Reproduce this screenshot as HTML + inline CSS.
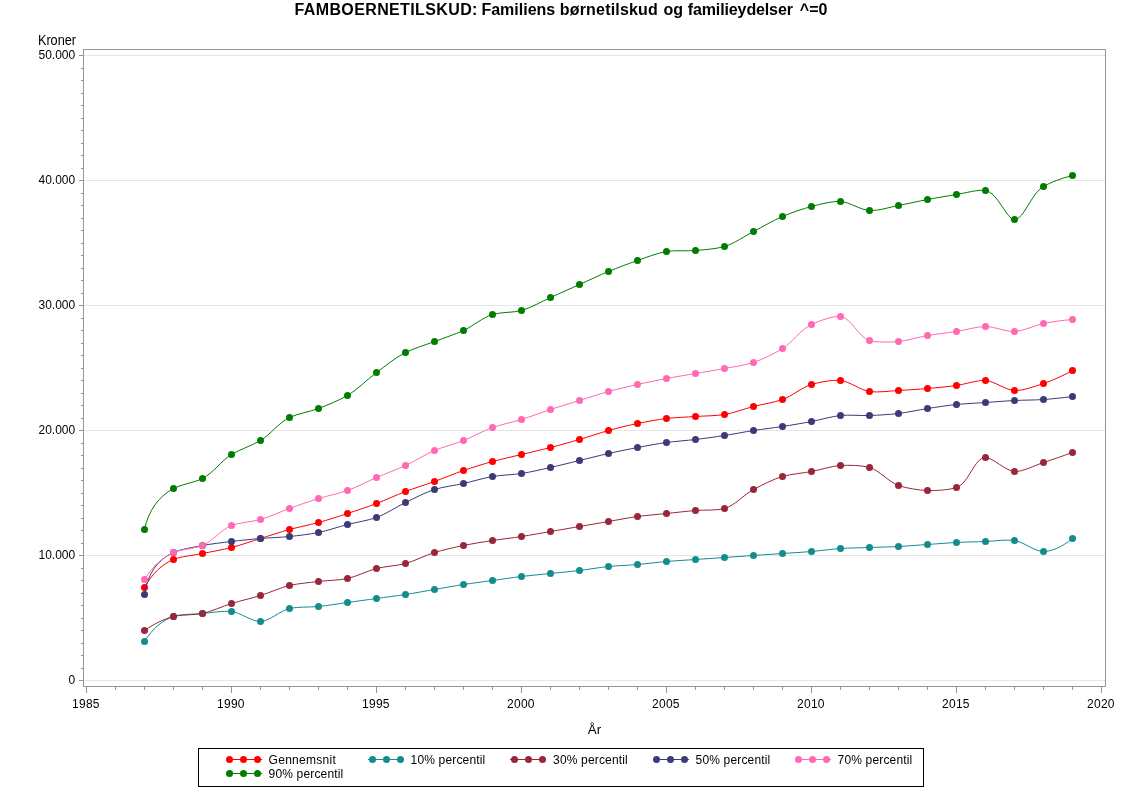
<!DOCTYPE html>
<html lang="da"><head><meta charset="utf-8">
<title>FAMBOERNETILSKUD: Familiens børnetilskud og familieydelser ^=0</title>
<style>
html,body{margin:0;padding:0;background:#fff;}
body{width:1122px;height:793px;overflow:hidden;}
svg{display:block;}
text{font-family:"Liberation Sans", sans-serif;fill:#000;}
.t{font-size:12px;}
.l{font-size:13.33px;}
.title{font-size:16px;font-weight:bold;}
.ax{stroke:#8F979C;stroke-width:1;fill:none;shape-rendering:crispEdges;}
.gr{stroke:#E6E6E6;stroke-width:1;fill:none;shape-rendering:crispEdges;}
.ln{fill:none;stroke-width:1;}
</style></head><body>
<svg width="1122" height="793" viewBox="0 0 1122 793">
<rect x="0" y="0" width="1122" height="793" fill="#fff"/>
<text class="title" y="14.7"><tspan x="294.5" textLength="182.9" lengthAdjust="spacing">FAMBOERNETILSKUD:</tspan> <tspan x="481.4">Familiens</tspan> <tspan x="559.8" textLength="98" lengthAdjust="spacing">børnetilskud</tspan> <tspan x="663.5">og</tspan> <tspan x="687.8" textLength="105.1" lengthAdjust="spacing">familieydelser</tspan> <tspan x="799.8">^=0</tspan></text>
<g class="gr">
<line x1="84.0" y1="55.5" x2="1105.0" y2="55.5"/>
<line x1="84.0" y1="180.5" x2="1105.0" y2="180.5"/>
<line x1="84.0" y1="305.5" x2="1105.0" y2="305.5"/>
<line x1="84.0" y1="430.5" x2="1105.0" y2="430.5"/>
<line x1="84.0" y1="555.5" x2="1105.0" y2="555.5"/>
<line x1="84.0" y1="680.5" x2="1105.0" y2="680.5"/>
</g>
<g class="ax">
<rect x="83.5" y="49.5" width="1022.0" height="637.0"/>
<path d="M79 680.5H83M81 668.5H83M81 655.5H83M81 643.5H83M81 630.5H83M81 618.5H83M81 605.5H83M81 593.5H83M81 580.5H83M81 568.5H83M79 555.5H83M81 543.5H83M81 530.5H83M81 518.5H83M81 505.5H83M81 493.5H83M81 480.5H83M81 468.5H83M81 455.5H83M81 443.5H83M79 430.5H83M81 418.5H83M81 405.5H83M81 393.5H83M81 380.5H83M81 368.5H83M81 355.5H83M81 343.5H83M81 330.5H83M81 318.5H83M79 305.5H83M81 293.5H83M81 280.5H83M81 268.5H83M81 255.5H83M81 243.5H83M81 230.5H83M81 218.5H83M81 205.5H83M81 193.5H83M79 180.5H83M81 168.5H83M81 155.5H83M81 143.5H83M81 130.5H83M81 118.5H83M81 105.5H83M81 93.5H83M81 80.5H83M81 68.5H83M79 55.5H83"/>
<path d="M86.5 687V693M115.5 687V690M144.5 687V690M173.5 687V690M202.5 687V690M231.5 687V693M260.5 687V690M289.5 687V690M318.5 687V690M347.5 687V690M376.5 687V693M405.5 687V690M434.5 687V690M463.5 687V690M492.5 687V690M521.5 687V693M550.5 687V690M579.5 687V690M608.5 687V690M637.5 687V690M666.5 687V693M695.5 687V690M724.5 687V690M753.5 687V690M782.5 687V690M811.5 687V693M840.5 687V690M869.5 687V690M898.5 687V690M927.5 687V690M956.5 687V693M985.5 687V690M1014.5 687V690M1043.5 687V690M1072.5 687V690M1101.5 687V693"/>
</g>
<g class="t" text-anchor="end">
<text x="75.2" y="59.1">50.000</text>
<text x="75.2" y="184.1">40.000</text>
<text x="75.2" y="309.1">30.000</text>
<text x="75.2" y="434.1">20.000</text>
<text x="75.2" y="559.1">10.000</text>
<text x="75.2" y="684.1">0</text>
</g>
<g class="t" text-anchor="middle" style="letter-spacing:0.3px">
<text x="85.9" y="708.1">1985</text>
<text x="230.9" y="708.1">1990</text>
<text x="375.9" y="708.1">1995</text>
<text x="520.9" y="708.1">2000</text>
<text x="665.9" y="708.1">2005</text>
<text x="810.9" y="708.1">2010</text>
<text x="955.9" y="708.1">2015</text>
<text x="1100.9" y="708.1">2020</text>
</g>
<text class="l" style="font-size:14px" x="37.9" y="44.9" textLength="38.2" lengthAdjust="spacingAndGlyphs">Kroner</text>
<text class="l" x="594.5" y="733.7" text-anchor="middle">År</text>
<g>
<path class="ln" stroke="#FF0000" d="M144.50 587.50C151.99 573.83 161.66 564.50 173.50 559.50C180.96 556.35 193.80 555.30 202.50 553.50C211.20 551.70 222.96 549.69 231.50 547.50C240.37 545.22 251.80 541.20 260.50 538.50C269.20 535.80 280.68 531.92 289.50 529.50C298.09 527.14 309.91 524.86 318.50 522.50C327.32 520.08 338.87 516.33 347.50 513.50C356.27 510.63 367.94 506.74 376.50 503.50C385.35 500.15 396.65 494.85 405.50 491.50C414.06 488.26 425.87 484.62 434.50 481.50C443.27 478.33 454.66 473.54 463.50 470.50C472.07 467.56 483.68 463.92 492.50 461.50C501.09 459.14 512.80 456.60 521.50 454.50C530.20 452.40 541.85 449.73 550.50 447.50C559.26 445.24 570.86 442.03 579.50 439.50C588.26 436.93 599.68 432.92 608.50 430.50C617.09 428.14 628.71 425.31 637.50 423.50C646.11 421.72 657.72 419.55 666.50 418.50C675.12 417.47 686.80 417.10 695.50 416.50C704.20 415.90 716.01 415.92 724.50 414.50C733.44 413.01 744.74 408.76 753.50 406.50C762.15 404.27 774.31 402.45 782.50 399.50C791.87 396.12 801.96 387.33 811.50 384.50C819.60 382.10 832.15 379.68 840.50 380.50C849.61 381.40 860.32 390.11 869.50 391.50C877.81 392.76 889.81 390.95 898.50 390.50C907.21 390.05 918.82 389.25 927.50 388.50C936.22 387.75 947.86 386.69 956.50 385.50C965.26 384.30 977.05 379.91 985.50 380.50C994.49 381.13 1005.61 390.15 1014.50 390.50C1023.03 390.84 1035.18 386.29 1043.50 383.50C1052.65 380.43 1062.32 376.10 1072.50 370.50"/>
<g fill="#FF0000">
<circle cx="144.5" cy="587.50" r="3.5"/><circle cx="173.5" cy="559.50" r="3.5"/><circle cx="202.5" cy="553.50" r="3.5"/><circle cx="231.5" cy="547.50" r="3.5"/><circle cx="260.5" cy="538.50" r="3.5"/><circle cx="289.5" cy="529.50" r="3.5"/><circle cx="318.5" cy="522.50" r="3.5"/><circle cx="347.5" cy="513.50" r="3.5"/><circle cx="376.5" cy="503.50" r="3.5"/><circle cx="405.5" cy="491.50" r="3.5"/><circle cx="434.5" cy="481.50" r="3.5"/><circle cx="463.5" cy="470.50" r="3.5"/><circle cx="492.5" cy="461.50" r="3.5"/><circle cx="521.5" cy="454.50" r="3.5"/><circle cx="550.5" cy="447.50" r="3.5"/><circle cx="579.5" cy="439.50" r="3.5"/><circle cx="608.5" cy="430.50" r="3.5"/><circle cx="637.5" cy="423.50" r="3.5"/><circle cx="666.5" cy="418.50" r="3.5"/><circle cx="695.5" cy="416.50" r="3.5"/><circle cx="724.5" cy="414.50" r="3.5"/><circle cx="753.5" cy="406.50" r="3.5"/><circle cx="782.5" cy="399.50" r="3.5"/><circle cx="811.5" cy="384.50" r="3.5"/><circle cx="840.5" cy="380.50" r="3.5"/><circle cx="869.5" cy="391.50" r="3.5"/><circle cx="898.5" cy="390.50" r="3.5"/><circle cx="927.5" cy="388.50" r="3.5"/><circle cx="956.5" cy="385.50" r="3.5"/><circle cx="985.5" cy="380.50" r="3.5"/><circle cx="1014.5" cy="390.50" r="3.5"/><circle cx="1043.5" cy="383.50" r="3.5"/><circle cx="1072.5" cy="370.50" r="3.5"/>
</g></g>
<g>
<path class="ln" stroke="#148C8C" d="M144.50 641.50C152.49 628.64 162.16 620.31 173.50 616.50C181.03 613.97 193.78 614.25 202.50 613.50C211.18 612.75 223.12 610.48 231.50 611.50C240.58 612.60 252.02 621.76 260.50 621.50C269.44 621.23 280.14 610.69 289.50 608.50C297.69 606.59 309.85 607.39 318.50 606.50C327.25 605.60 338.80 603.70 347.50 602.50C356.20 601.30 367.80 599.70 376.50 598.50C385.20 597.30 396.83 595.84 405.50 594.50C414.23 593.15 425.80 591.00 434.50 589.50C443.20 588.00 454.77 585.85 463.50 584.50C472.17 583.16 483.80 581.70 492.50 580.50C501.20 579.30 512.77 577.55 521.50 576.50C530.17 575.45 541.80 574.40 550.50 573.50C559.20 572.60 570.83 571.55 579.50 570.50C588.23 569.45 599.75 567.40 608.50 566.50C617.15 565.61 628.82 565.25 637.50 564.50C646.22 563.75 657.78 562.25 666.50 561.50C675.18 560.75 686.80 560.10 695.50 559.50C704.20 558.90 715.80 558.10 724.50 557.50C733.20 556.90 744.80 556.10 753.50 555.50C762.20 554.90 773.80 554.10 782.50 553.50C791.20 552.90 802.82 552.25 811.50 551.50C820.22 550.75 831.77 549.10 840.50 548.50C849.17 547.90 860.80 547.80 869.50 547.50C878.20 547.20 889.81 546.95 898.50 546.50C907.21 546.05 918.80 545.10 927.50 544.50C936.20 543.90 947.79 542.95 956.50 542.50C965.19 542.05 976.80 541.80 985.50 541.50C994.20 541.20 1006.19 539.24 1014.50 540.50C1023.68 541.89 1034.95 551.67 1043.50 551.50C1052.36 551.33 1062.03 546.99 1072.50 538.50"/>
<g fill="#148C8C">
<circle cx="144.5" cy="641.50" r="3.5"/><circle cx="173.5" cy="616.50" r="3.5"/><circle cx="202.5" cy="613.50" r="3.5"/><circle cx="231.5" cy="611.50" r="3.5"/><circle cx="260.5" cy="621.50" r="3.5"/><circle cx="289.5" cy="608.50" r="3.5"/><circle cx="318.5" cy="606.50" r="3.5"/><circle cx="347.5" cy="602.50" r="3.5"/><circle cx="376.5" cy="598.50" r="3.5"/><circle cx="405.5" cy="594.50" r="3.5"/><circle cx="434.5" cy="589.50" r="3.5"/><circle cx="463.5" cy="584.50" r="3.5"/><circle cx="492.5" cy="580.50" r="3.5"/><circle cx="521.5" cy="576.50" r="3.5"/><circle cx="550.5" cy="573.50" r="3.5"/><circle cx="579.5" cy="570.50" r="3.5"/><circle cx="608.5" cy="566.50" r="3.5"/><circle cx="637.5" cy="564.50" r="3.5"/><circle cx="666.5" cy="561.50" r="3.5"/><circle cx="695.5" cy="559.50" r="3.5"/><circle cx="724.5" cy="557.50" r="3.5"/><circle cx="753.5" cy="555.50" r="3.5"/><circle cx="782.5" cy="553.50" r="3.5"/><circle cx="811.5" cy="551.50" r="3.5"/><circle cx="840.5" cy="548.50" r="3.5"/><circle cx="869.5" cy="547.50" r="3.5"/><circle cx="898.5" cy="546.50" r="3.5"/><circle cx="927.5" cy="544.50" r="3.5"/><circle cx="956.5" cy="542.50" r="3.5"/><circle cx="985.5" cy="541.50" r="3.5"/><circle cx="1014.5" cy="540.50" r="3.5"/><circle cx="1043.5" cy="551.50" r="3.5"/><circle cx="1072.5" cy="538.50" r="3.5"/>
</g></g>
<g>
<path class="ln" stroke="#99263B" d="M144.50 630.50C154.38 623.67 164.05 619.00 173.50 616.50C181.64 614.34 194.11 615.30 202.50 613.50C211.56 611.55 222.67 606.23 231.50 603.50C240.08 600.85 251.92 598.15 260.50 595.50C269.33 592.77 280.47 587.61 289.50 585.50C297.92 583.53 309.77 582.55 318.50 581.50C327.17 580.45 339.11 580.30 347.50 578.50C356.56 576.55 367.51 570.78 376.50 568.50C384.95 566.36 397.12 565.74 405.50 563.50C414.57 561.07 425.53 555.25 434.50 552.50C442.96 549.91 454.71 547.31 463.50 545.50C472.11 543.72 483.77 541.85 492.50 540.50C501.17 539.16 512.83 537.84 521.50 536.50C530.23 535.15 541.80 533.00 550.50 531.50C559.20 530.00 570.80 528.00 579.50 526.50C588.20 525.00 599.80 523.00 608.50 521.50C617.20 520.00 628.74 517.70 637.50 516.50C646.14 515.31 657.80 514.40 666.50 513.50C675.20 512.60 686.78 511.25 695.50 510.50C704.18 509.75 716.68 510.74 724.50 508.50C734.69 505.58 744.15 494.53 753.50 489.50C761.70 485.08 773.24 479.23 782.50 476.50C790.75 474.07 802.84 473.14 811.50 471.50C820.24 469.84 831.68 466.07 840.50 465.50C849.08 464.94 861.62 465.30 869.50 467.50C879.53 470.30 888.60 482.06 898.50 485.50C906.43 488.26 918.74 490.21 927.50 490.50C936.14 490.78 949.13 490.01 956.50 487.50C969.11 483.21 974.34 457.44 985.50 457.50C993.07 457.54 1005.38 471.03 1014.50 471.50C1022.85 471.93 1034.87 465.33 1043.50 462.50C1052.27 459.63 1061.93 456.30 1072.50 452.50"/>
<g fill="#99263B">
<circle cx="144.5" cy="630.50" r="3.5"/><circle cx="173.5" cy="616.50" r="3.5"/><circle cx="202.5" cy="613.50" r="3.5"/><circle cx="231.5" cy="603.50" r="3.5"/><circle cx="260.5" cy="595.50" r="3.5"/><circle cx="289.5" cy="585.50" r="3.5"/><circle cx="318.5" cy="581.50" r="3.5"/><circle cx="347.5" cy="578.50" r="3.5"/><circle cx="376.5" cy="568.50" r="3.5"/><circle cx="405.5" cy="563.50" r="3.5"/><circle cx="434.5" cy="552.50" r="3.5"/><circle cx="463.5" cy="545.50" r="3.5"/><circle cx="492.5" cy="540.50" r="3.5"/><circle cx="521.5" cy="536.50" r="3.5"/><circle cx="550.5" cy="531.50" r="3.5"/><circle cx="579.5" cy="526.50" r="3.5"/><circle cx="608.5" cy="521.50" r="3.5"/><circle cx="637.5" cy="516.50" r="3.5"/><circle cx="666.5" cy="513.50" r="3.5"/><circle cx="695.5" cy="510.50" r="3.5"/><circle cx="724.5" cy="508.50" r="3.5"/><circle cx="753.5" cy="489.50" r="3.5"/><circle cx="782.5" cy="476.50" r="3.5"/><circle cx="811.5" cy="471.50" r="3.5"/><circle cx="840.5" cy="465.50" r="3.5"/><circle cx="869.5" cy="467.50" r="3.5"/><circle cx="898.5" cy="485.50" r="3.5"/><circle cx="927.5" cy="490.50" r="3.5"/><circle cx="956.5" cy="487.50" r="3.5"/><circle cx="985.5" cy="457.50" r="3.5"/><circle cx="1014.5" cy="471.50" r="3.5"/><circle cx="1043.5" cy="462.50" r="3.5"/><circle cx="1072.5" cy="452.50" r="3.5"/>
</g></g>
<g>
<path class="ln" stroke="#3B3B78" d="M144.50 594.50C147.69 573.64 157.36 559.64 173.50 552.50C180.71 549.31 193.67 547.16 202.50 545.50C211.08 543.89 222.77 542.55 231.50 541.50C240.17 540.45 251.78 539.25 260.50 538.50C269.18 537.75 280.85 537.39 289.50 536.50C298.25 535.60 309.97 534.24 318.50 532.50C327.39 530.69 338.74 526.76 347.50 524.50C356.15 522.27 368.31 520.45 376.50 517.50C385.87 514.12 396.62 506.78 405.50 502.50C414.03 498.39 425.29 492.40 434.50 489.50C442.79 486.89 454.85 485.44 463.50 483.50C472.25 481.54 483.64 478.01 492.50 476.50C501.06 475.05 512.90 474.82 521.50 473.50C530.30 472.14 541.85 469.44 550.50 467.50C559.25 465.54 570.80 462.60 579.50 460.50C588.20 458.40 599.75 455.46 608.50 453.50C617.15 451.56 628.76 449.16 637.50 447.50C646.16 445.86 657.74 443.70 666.50 442.50C675.14 441.31 686.83 440.55 695.50 439.50C704.23 438.45 715.83 436.84 724.50 435.50C733.23 434.15 744.77 431.85 753.50 430.50C762.17 429.16 773.83 427.84 782.50 426.50C791.23 425.15 802.84 423.14 811.50 421.50C820.24 419.84 831.66 416.39 840.50 415.50C849.07 414.64 860.82 415.80 869.50 415.50C878.22 415.20 889.88 414.53 898.50 413.50C907.28 412.45 918.77 409.85 927.50 408.50C936.17 407.16 947.75 405.40 956.50 404.50C965.15 403.61 976.80 403.10 985.50 402.50C994.20 401.90 1005.79 400.95 1014.50 400.50C1023.19 400.05 1034.83 400.10 1043.50 399.50C1052.23 398.90 1061.90 397.90 1072.50 396.50"/>
<g fill="#3B3B78">
<circle cx="144.5" cy="594.50" r="3.5"/><circle cx="173.5" cy="552.50" r="3.5"/><circle cx="202.5" cy="545.50" r="3.5"/><circle cx="231.5" cy="541.50" r="3.5"/><circle cx="260.5" cy="538.50" r="3.5"/><circle cx="289.5" cy="536.50" r="3.5"/><circle cx="318.5" cy="532.50" r="3.5"/><circle cx="347.5" cy="524.50" r="3.5"/><circle cx="376.5" cy="517.50" r="3.5"/><circle cx="405.5" cy="502.50" r="3.5"/><circle cx="434.5" cy="489.50" r="3.5"/><circle cx="463.5" cy="483.50" r="3.5"/><circle cx="492.5" cy="476.50" r="3.5"/><circle cx="521.5" cy="473.50" r="3.5"/><circle cx="550.5" cy="467.50" r="3.5"/><circle cx="579.5" cy="460.50" r="3.5"/><circle cx="608.5" cy="453.50" r="3.5"/><circle cx="637.5" cy="447.50" r="3.5"/><circle cx="666.5" cy="442.50" r="3.5"/><circle cx="695.5" cy="439.50" r="3.5"/><circle cx="724.5" cy="435.50" r="3.5"/><circle cx="753.5" cy="430.50" r="3.5"/><circle cx="782.5" cy="426.50" r="3.5"/><circle cx="811.5" cy="421.50" r="3.5"/><circle cx="840.5" cy="415.50" r="3.5"/><circle cx="869.5" cy="415.50" r="3.5"/><circle cx="898.5" cy="413.50" r="3.5"/><circle cx="927.5" cy="408.50" r="3.5"/><circle cx="956.5" cy="404.50" r="3.5"/><circle cx="985.5" cy="402.50" r="3.5"/><circle cx="1014.5" cy="400.50" r="3.5"/><circle cx="1043.5" cy="399.50" r="3.5"/><circle cx="1072.5" cy="396.50" r="3.5"/>
</g></g>
<g>
<path class="ln" stroke="#FF69B4" d="M144.50 579.50C152.34 566.64 162.01 557.64 173.50 552.50C181.01 549.14 194.64 548.73 202.50 545.50C212.58 541.36 221.34 529.43 231.50 525.50C239.33 522.47 252.08 521.92 260.50 519.50C269.52 516.91 280.73 511.67 289.50 508.50C298.13 505.38 309.67 501.23 318.50 498.50C327.08 495.85 339.13 493.47 347.50 490.50C356.59 487.27 367.72 481.28 376.50 477.50C385.12 473.79 397.04 469.41 405.50 465.50C414.47 461.35 425.35 454.37 434.50 450.50C442.83 446.98 455.02 443.84 463.50 440.50C472.44 436.98 483.41 430.73 492.50 427.50C500.87 424.53 512.92 422.15 521.50 419.50C530.33 416.77 541.73 412.37 550.50 409.50C559.13 406.67 570.80 403.20 579.50 400.50C588.20 397.80 599.68 393.92 608.50 391.50C617.09 389.14 628.75 386.46 637.50 384.50C646.15 382.56 657.76 380.16 666.50 378.50C675.16 376.86 686.80 375.00 695.50 373.50C704.20 372.00 715.84 370.14 724.50 368.50C733.24 366.84 745.28 365.19 753.50 362.50C762.82 359.45 774.60 353.36 782.50 348.50C792.48 342.36 800.77 329.46 811.50 324.50C819.16 320.96 832.84 315.76 840.50 316.50C851.23 317.54 858.32 337.33 869.50 340.50C877.07 342.65 889.93 342.21 898.50 341.50C907.34 340.77 918.72 337.01 927.50 335.50C936.13 334.02 947.83 332.84 956.50 331.50C965.23 330.15 976.80 326.50 985.50 326.50C994.20 326.50 1005.94 331.88 1014.50 331.50C1023.35 331.11 1034.61 325.31 1043.50 323.50C1052.03 321.76 1061.70 320.43 1072.50 319.50"/>
<g fill="#FF69B4">
<circle cx="144.5" cy="579.50" r="3.5"/><circle cx="173.5" cy="552.50" r="3.5"/><circle cx="202.5" cy="545.50" r="3.5"/><circle cx="231.5" cy="525.50" r="3.5"/><circle cx="260.5" cy="519.50" r="3.5"/><circle cx="289.5" cy="508.50" r="3.5"/><circle cx="318.5" cy="498.50" r="3.5"/><circle cx="347.5" cy="490.50" r="3.5"/><circle cx="376.5" cy="477.50" r="3.5"/><circle cx="405.5" cy="465.50" r="3.5"/><circle cx="434.5" cy="450.50" r="3.5"/><circle cx="463.5" cy="440.50" r="3.5"/><circle cx="492.5" cy="427.50" r="3.5"/><circle cx="521.5" cy="419.50" r="3.5"/><circle cx="550.5" cy="409.50" r="3.5"/><circle cx="579.5" cy="400.50" r="3.5"/><circle cx="608.5" cy="391.50" r="3.5"/><circle cx="637.5" cy="384.50" r="3.5"/><circle cx="666.5" cy="378.50" r="3.5"/><circle cx="695.5" cy="373.50" r="3.5"/><circle cx="724.5" cy="368.50" r="3.5"/><circle cx="753.5" cy="362.50" r="3.5"/><circle cx="782.5" cy="348.50" r="3.5"/><circle cx="811.5" cy="324.50" r="3.5"/><circle cx="840.5" cy="316.50" r="3.5"/><circle cx="869.5" cy="340.50" r="3.5"/><circle cx="898.5" cy="341.50" r="3.5"/><circle cx="927.5" cy="335.50" r="3.5"/><circle cx="956.5" cy="331.50" r="3.5"/><circle cx="985.5" cy="326.50" r="3.5"/><circle cx="1014.5" cy="331.50" r="3.5"/><circle cx="1043.5" cy="323.50" r="3.5"/><circle cx="1072.5" cy="319.50" r="3.5"/>
</g></g>
<g>
<path class="ln" stroke="#007D00" d="M144.50 529.50C148.69 510.39 158.35 496.73 173.50 488.50C180.73 484.57 194.77 482.47 202.50 478.50C213.00 473.10 221.52 460.64 231.50 454.50C239.40 449.64 252.53 445.33 260.50 440.50C270.32 434.55 279.07 422.53 289.50 417.50C297.25 413.77 310.08 411.66 318.50 408.50C327.52 405.12 339.59 400.10 347.50 395.50C357.44 389.71 367.45 379.17 376.50 372.50C384.90 366.30 395.80 357.40 405.50 352.50C413.52 348.45 425.80 344.80 434.50 341.50C443.20 338.20 455.19 334.30 463.50 330.50C472.67 326.31 482.83 317.47 492.50 314.50C500.53 312.03 513.27 312.75 521.50 310.50C530.81 307.95 541.80 301.40 550.50 297.50C559.20 293.60 570.80 288.40 579.50 284.50C588.20 280.60 599.64 275.16 608.50 271.50C617.05 267.97 628.66 263.54 637.50 260.50C646.07 257.56 657.48 252.97 666.50 251.50C674.92 250.13 686.86 251.24 695.50 250.50C704.26 249.75 716.40 248.90 724.50 246.50C734.04 243.67 744.80 236.00 753.50 231.50C762.20 227.00 773.35 220.37 782.50 216.50C790.83 212.98 802.51 208.78 811.50 206.50C819.95 204.36 832.00 201.01 840.50 201.50C849.41 202.01 860.59 209.99 869.50 210.50C878.00 210.99 889.84 207.14 898.50 205.50C907.24 203.84 918.76 201.16 927.50 199.50C936.16 197.86 947.77 195.85 956.50 194.50C965.17 193.16 978.10 189.27 985.50 190.50C997.77 192.53 1006.20 219.16 1014.50 219.50C1023.70 219.88 1031.06 193.68 1043.50 186.50C1050.88 182.24 1060.55 178.58 1072.50 175.50"/>
<g fill="#007D00">
<circle cx="144.5" cy="529.50" r="3.5"/><circle cx="173.5" cy="488.50" r="3.5"/><circle cx="202.5" cy="478.50" r="3.5"/><circle cx="231.5" cy="454.50" r="3.5"/><circle cx="260.5" cy="440.50" r="3.5"/><circle cx="289.5" cy="417.50" r="3.5"/><circle cx="318.5" cy="408.50" r="3.5"/><circle cx="347.5" cy="395.50" r="3.5"/><circle cx="376.5" cy="372.50" r="3.5"/><circle cx="405.5" cy="352.50" r="3.5"/><circle cx="434.5" cy="341.50" r="3.5"/><circle cx="463.5" cy="330.50" r="3.5"/><circle cx="492.5" cy="314.50" r="3.5"/><circle cx="521.5" cy="310.50" r="3.5"/><circle cx="550.5" cy="297.50" r="3.5"/><circle cx="579.5" cy="284.50" r="3.5"/><circle cx="608.5" cy="271.50" r="3.5"/><circle cx="637.5" cy="260.50" r="3.5"/><circle cx="666.5" cy="251.50" r="3.5"/><circle cx="695.5" cy="250.50" r="3.5"/><circle cx="724.5" cy="246.50" r="3.5"/><circle cx="753.5" cy="231.50" r="3.5"/><circle cx="782.5" cy="216.50" r="3.5"/><circle cx="811.5" cy="206.50" r="3.5"/><circle cx="840.5" cy="201.50" r="3.5"/><circle cx="869.5" cy="210.50" r="3.5"/><circle cx="898.5" cy="205.50" r="3.5"/><circle cx="927.5" cy="199.50" r="3.5"/><circle cx="956.5" cy="194.50" r="3.5"/><circle cx="985.5" cy="190.50" r="3.5"/><circle cx="1014.5" cy="219.50" r="3.5"/><circle cx="1043.5" cy="186.50" r="3.5"/><circle cx="1072.5" cy="175.50" r="3.5"/>
</g></g>
<rect x="198.5" y="748.5" width="725" height="38" fill="#fff" stroke="#000" stroke-width="1" shape-rendering="crispEdges"/>
<g>
<line x1="227.5" y1="759.5" x2="262.0" y2="759.5" stroke="#FF0000" stroke-width="1"/>
<g fill="#FF0000"><circle cx="229.5" cy="759.5" r="3.5"/><circle cx="243.5" cy="759.5" r="3.5"/><circle cx="257.5" cy="759.5" r="3.5"/></g>
<text class="t" x="268.6" y="763.6" textLength="67.2" lengthAdjust="spacing">Gennemsnit</text>
</g>
<g>
<line x1="368.0" y1="759.5" x2="402.5" y2="759.5" stroke="#148C8C" stroke-width="1"/>
<g fill="#148C8C"><circle cx="372.5" cy="759.5" r="3.5"/><circle cx="386.5" cy="759.5" r="3.5"/><circle cx="400.5" cy="759.5" r="3.5"/></g>
<text class="t" x="410.6" y="763.6" textLength="74.6" lengthAdjust="spacing">10% percentil</text>
</g>
<g>
<line x1="510.0" y1="759.5" x2="544.5" y2="759.5" stroke="#99263B" stroke-width="1"/>
<g fill="#99263B"><circle cx="514.5" cy="759.5" r="3.5"/><circle cx="528.5" cy="759.5" r="3.5"/><circle cx="542.5" cy="759.5" r="3.5"/></g>
<text class="t" x="553.1" y="763.6" textLength="74.6" lengthAdjust="spacing">30% percentil</text>
</g>
<g>
<line x1="654.5" y1="759.5" x2="689.0" y2="759.5" stroke="#3B3B78" stroke-width="1"/>
<g fill="#3B3B78"><circle cx="656.5" cy="759.5" r="3.5"/><circle cx="670.5" cy="759.5" r="3.5"/><circle cx="684.5" cy="759.5" r="3.5"/></g>
<text class="t" x="695.6" y="763.6" textLength="74.6" lengthAdjust="spacing">50% percentil</text>
</g>
<g>
<line x1="796.5" y1="759.5" x2="831.0" y2="759.5" stroke="#FF69B4" stroke-width="1"/>
<g fill="#FF69B4"><circle cx="798.5" cy="759.5" r="3.5"/><circle cx="812.5" cy="759.5" r="3.5"/><circle cx="826.5" cy="759.5" r="3.5"/></g>
<text class="t" x="837.6" y="763.6" textLength="74.6" lengthAdjust="spacing">70% percentil</text>
</g>
<g>
<line x1="227.5" y1="773.5" x2="262.0" y2="773.5" stroke="#007D00" stroke-width="1"/>
<g fill="#007D00"><circle cx="229.5" cy="773.5" r="3.5"/><circle cx="243.5" cy="773.5" r="3.5"/><circle cx="257.5" cy="773.5" r="3.5"/></g>
<text class="t" x="268.6" y="777.6" textLength="74.6" lengthAdjust="spacing">90% percentil</text>
</g>
</svg>
</body></html>
